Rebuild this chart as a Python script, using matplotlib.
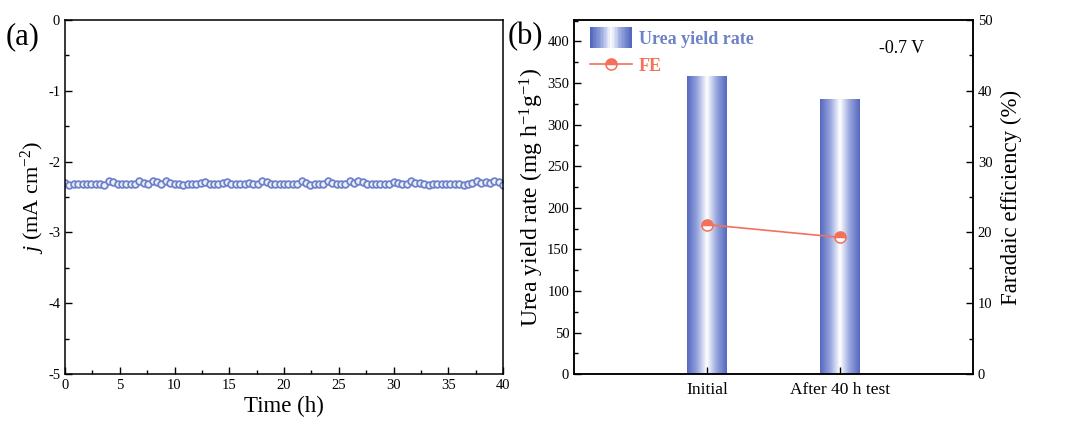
import numpy as np
import matplotlib
matplotlib.use('Agg')
import matplotlib.pyplot as plt
from matplotlib.colors import LinearSegmentedColormap
from matplotlib.legend_handler import HandlerBase
from matplotlib.lines import Line2D
from matplotlib.patches import Patch, Rectangle
from matplotlib.ticker import MultipleLocator

plt.rcParams['font.family'] = 'Liberation Serif'
plt.rcParams['mathtext.fontset'] = 'custom'
plt.rcParams['mathtext.rm'] = 'Liberation Serif'
plt.rcParams['mathtext.it'] = 'Liberation Serif:italic'
plt.rcParams['axes.unicode_minus'] = False

# panel (a): current density during 40 h test
j_values = [-2.30, -2.33, -2.31, -2.31, -2.31, -2.31, -2.31, -2.31, -2.31, -2.33,
            -2.27, -2.29, -2.32, -2.31, -2.31, -2.31, -2.31, -2.27, -2.30, -2.31,
            -2.28, -2.29, -2.31, -2.28, -2.30, -2.31, -2.31, -2.33, -2.32, -2.31,
            -2.31, -2.30, -2.29, -2.31, -2.31, -2.31, -2.30, -2.29, -2.31, -2.31,
            -2.31, -2.31, -2.30, -2.31, -2.31, -2.27, -2.29, -2.31, -2.31, -2.31,
            -2.31, -2.31, -2.31, -2.31, -2.27, -2.30, -2.33, -2.32, -2.31, -2.31,
            -2.28, -2.30, -2.31, -2.31, -2.31, -2.28, -2.30, -2.27, -2.29, -2.31,
            -2.31, -2.31, -2.31, -2.31, -2.31, -2.29, -2.30, -2.31, -2.31, -2.28,
            -2.30, -2.30, -2.32, -2.33, -2.32, -2.31, -2.31, -2.31, -2.31, -2.31,
            -2.31, -2.33, -2.32, -2.30, -2.27, -2.30, -2.29, -2.30, -2.28, -2.29,
            -2.33]
time_h = np.linspace(0, 40, len(j_values))

# panel (b): urea yield and FE
conditions = ['Initial', 'After 40 h test']
urea_rate = [358, 331]
fe = [21.1, 19.3]

blue = '#6d82c8'
orange = '#f3705a'
grad_cmap = LinearSegmentedColormap.from_list(
    'bar', ['#5468bd', '#95a3dd', '#ffffff', '#95a3dd', '#5468bd'])


class GradientHandler(HandlerBase):
    def create_artists(self, legend, orig_handle, xdescent, ydescent,
                       width, height, fontsize, trans):
        n = 30
        strips = []
        for k in range(n):
            r = Rectangle((-xdescent + k * width / n, -ydescent - 0.3 * height),
                          width / n + 0.2, height * 1.6,
                          facecolor=grad_cmap(k / (n - 1)), lw=0, transform=trans)
            strips.append(r)
        return strips


fig = plt.figure(figsize=(10.73, 4.32), dpi=100)
ax1 = fig.add_axes([0.0606, 0.134, 0.4082, 0.82])
ax2 = fig.add_axes([0.535, 0.134, 0.3718, 0.82])

# ---- (a)
ax1.plot(time_h, j_values, '-o', color=blue, lw=1, ms=4.8,
         mfc='#eef0fa', mec=blue, mew=1.3)
ax1.set_xlim(0, 40)
ax1.set_ylim(-5, 0)
ax1.xaxis.set_major_locator(MultipleLocator(5))
ax1.xaxis.set_minor_locator(MultipleLocator(2.5))
ax1.yaxis.set_major_locator(MultipleLocator(1))
ax1.yaxis.set_minor_locator(MultipleLocator(0.5))
ax1.tick_params(which='both', direction='in', labelsize=10.5, top=False, right=False)
ax1.tick_params(which='major', length=5, width=1)
ax1.tick_params(which='minor', length=3, width=1)
ax1.set_xlabel('Time (h)', fontsize=16.5, labelpad=3)
ax1.set_ylabel(r'$\it{j}$ (mA cm$^{-2}$)', fontsize=16, labelpad=1)

# ---- (b)
x = np.arange(1, len(conditions) + 1)
bars = ax2.bar(x, urea_rate, width=0.3, facecolor='none', edgecolor='none')
grad = np.linspace(0, 1, 256).reshape(1, -1)
for b in bars:
    x0, y0 = b.get_x(), b.get_y()
    im = ax2.imshow(grad, cmap=grad_cmap, aspect='auto', zorder=1,
                    extent=[x0, x0 + b.get_width(), y0, y0 + b.get_height()])
    im.set_clip_path(b)
ax2.set_xlim(0, 3)
ax2.set_ylim(0, 426)
ax2.set_xticks(x)
ax2.set_xticklabels(conditions)
ax2.yaxis.set_major_locator(MultipleLocator(50))
ax2.yaxis.set_minor_locator(MultipleLocator(25))
ax2.tick_params(which='both', direction='in', labelsize=10.5, top=False, right=False)
ax2.tick_params(axis='x', labelsize=12.5, pad=6)
ax2.tick_params(which='major', length=5, width=1)
ax2.tick_params(which='minor', length=3, width=1)
ax2.set_ylabel(r'Urea yield rate (mg h$^{-1}$g$^{-1}$)', fontsize=17, labelpad=1)

ax3 = ax2.twinx()
ax3.plot(x, fe, '-o', color=orange, lw=1.2, ms=8, fillstyle='top',
         mfc=orange, mfcalt='white', mec=orange, mew=1.1, zorder=5)
ax3.set_ylim(0, 50)
ax3.yaxis.set_major_locator(MultipleLocator(10))
ax3.yaxis.set_minor_locator(MultipleLocator(5))
ax3.tick_params(which='both', direction='in', labelsize=10.5)
ax3.tick_params(which='major', length=5, width=1)
ax3.tick_params(which='minor', length=3, width=1)
ax3.set_ylabel('Faradaic efficiency (%)', fontsize=16.5, labelpad=6)
ax3.text(0.82, 0.92, '-0.7 V', transform=ax3.transAxes, fontsize=13,
         ha='center', va='center')

h_bar = Patch(label='Urea yield rate')
h_fe = Line2D([], [], color=orange, lw=1.2, marker='o', ms=8, fillstyle='top',
              mfc=orange, mfcalt='white', mec=orange, mew=1.1, label='FE')
ax3.legend(handles=[h_bar, h_fe], handler_map={Patch: GradientHandler()},
           loc='upper left', bbox_to_anchor=(0.0, 1.015), frameon=False,
           prop={'weight': 'bold', 'size': 13}, labelcolor=[blue, orange],
           handlelength=2.3, handletextpad=0.4, labelspacing=0.55)

for ax in (ax1, ax2, ax3):
    for s in ax.spines.values():
        s.set_linewidth(1.1)

fig.text(0.005, 0.915, '(a)', fontsize=22, va='center')
fig.text(0.473, 0.915, '(b)', fontsize=22, va='center')

fig.savefig('out.png', dpi=100)
